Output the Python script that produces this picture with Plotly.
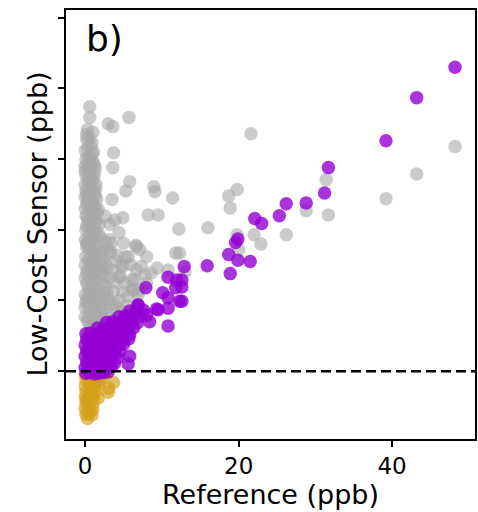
import plotly.graph_objects as go

# ---------------- data (ppb) ----------------
gray_x = [0.6, 0.6, 0.5, 0.9, 0.3, 1.1, 0.6, 0.1, 1.0, 0.4, 1.3, 0.7, 0.1, 1.1, 0.4, 1.4, 0.8, 0.1, 1.2, 0.5,
          1.5, 0.9, 0.2, 1.3, 0.6, 1.6, 0.1, 1.0, 0.4, 1.8, 0.8, 0.1, 1.3, 0.5, 2.0, 0.9, 0.2, 1.5, 0.6, 2.3,
          1.1, 0.1, 1.8, 0.7, 2.7, 1.3, 0.3, 2.1, 0.9, 3.2, 1.6, 0.2, 2.6, 1.1, 3.7, 0.5, 1.9, 3.0, 0.1, 1.4,
          2.4, 4.1, 0.7, 1.8, 3.3, 0.3, 2.7, 1.2,
          0.3, 1.0, 0.2, 0.8, 0.3, 0.9, 0.2, 1.0, 0.3, 1.3, 0.5, 1.2, 0.4, 1.8, 0.6, 2.3, 1.4, 2.7, 0.9, 3.4,
          2.1, 1.0, 2.0, 4.4, 4.9, 5.4, 3.8, 4.5, 2.9, 2.4, 1.7, 2.6, 3.3, 4.0, 3.6, 4.8, 5.6, 6.2, 5.2, 6.9,
          0.0, 0.7, 1.2, 0.5, 1.4, 0.3, 1.1, 0.7, 1.5, 0.0, 0.8, 1.6, 0.2, 1.2, 2.4, 0.4, 1.7, 0.0, 2.2, 0.5,
          1.2, 2.9, 0.0, 1.5, 0.6, 0.9, 0.0, 1.7, 0.4, 1.0, 0.2, 1.9, 0.0, 1.0, 0.0, 0.8, 0.6, 0.0, 1.0, 2.2,
          0.2, 0.9, 0.4, 1.2, 0.0, 0.6, 1.3, 0.0, 0.7, 1.4, 0.2, 0.9, 0.3, 1.4, 0.6, 0.0, 1.0, 0.2, 1.3, 0.7,
          0.0, 1.8, 0.4, 2.4, 1.0,
          2.8, 3.4, 4.2, 4.7, 5.9, 6.4, 7.3, 7.0, 8.0, 8.6, 9.4, 4.4, 3.2, 2.6, 5.0, 2.8, 3.9, 4.6, 6.0, 3.3,
          3.0, 3.6, 5.7, 3.7, 3.6, 5.8, 5.3, 8.95, 9.1, 3.5, 11.4, 8.2, 9.5, 3.9, 4.9, 12.2, 16.0, 18.7, 19.8,
          18.9, 21.6, 39.2, 43.2, 48.2, 31.4, 31.7, 28.8, 26.2, 22.0, 22.9, 20.0, 13.0, 12.3, 19.8, 6.7, 7.1,
          5.6, 8.0, 11.8, 4.9, 6.7, 10.8, 7.8, 4.5, 6.1, 6.2, 3.1, 3.1, 6.6, 5.3]
gray_y = [37.4, 35.9, 33.0, 32.3, 31.6, 31.0, 30.4, 30.0, 29.6, 29.1, 28.7, 28.2, 27.7, 27.3, 26.8, 26.4, 26.0,
          25.6, 25.2, 24.8, 24.4, 24.0, 23.6, 23.2, 22.8, 22.4, 22.0, 21.6, 21.2, 20.8, 20.4, 20.0, 19.6, 19.2,
          18.9, 18.5, 18.1, 17.7, 17.3, 17.0, 16.6, 16.2, 15.8, 15.4, 15.1, 14.7, 14.3, 13.9, 13.5, 13.2, 12.8,
          12.4, 12.0, 11.6, 11.3, 10.9, 10.5, 10.1, 9.7, 9.3, 8.9, 8.6, 8.2, 7.8, 7.5, 7.1, 6.8, 6.4,
          34.2, 33.8, 32.8, 29.9, 28.5, 27.0, 25.0, 23.4, 21.8, 20.9, 18.7, 17.0, 15.8, 14.4, 13.0, 12.4, 11.0,
          10.5, 9.9, 9.4, 8.4, 7.5, 7.0, 10.0, 11.2, 9.3, 12.6, 13.5, 14.6, 16.0, 19.5, 18.3, 16.9, 15.6, 14.2,
          8.4, 10.6, 11.6, 12.4, 10.9,
          31.2, 31.8, 29.2, 27.5, 25.8, 24.2, 22.2, 21.0, 19.0, 18.6, 16.0, 15.2, 13.8, 13.3, 13.5, 11.8, 11.4,
          10.8, 9.6, 9.0, 8.6, 8.0, 7.7, 6.8, 6.5, 23.8, 23.0, 22.9, 20.3, 19.9, 17.5, 16.9, 15.0, 14.1, 26.4,
          25.3, 28.9, 29.0, 18.0, 14.8,
          33.5, 30.8, 30.2, 28.0, 28.3, 26.6, 24.8, 24.6, 23.2, 21.2, 20.6, 19.0, 17.9, 16.3, 14.6, 13.2, 12.2,
          10.2, 10.0, 11.2, 9.0, 9.0, 7.6, 7.3, 6.2,
          17.5, 18.1, 16.4, 14.9, 15.1, 13.0, 14.8, 11.5, 12.4, 13.9, 14.6, 19.6, 20.8, 21.9, 18.1, 11.2, 9.5,
          7.2, 8.0, 6.9,
          35.0, 34.6, 35.9, 30.9, 28.8, 26.8, 25.5, 26.1, 25.4, 24.3, 24.5, 22.1, 22.1, 21.4, 21.7, 20.1, 20.3,
          24.8, 25.7, 23.1, 33.6, 24.4, 27.9, 31.8, 27.1, 22.1, 22.7, 19.3, 19.3, 18.0, 17.2, 14.0, 16.7, 19.3,
          17.6, 17.2, 16.2, 16.2, 16.7, 14.8, 14.3, 14.3, 13.6, 13.3, 12.9, 11.5, 18.6, 16.7, 17.8, 16.2]

gold_x = [0.0, 0.6, 1.2, 1.9, 2.5, 0.1, 0.7, 1.3, 2.0, 0.0, 0.6, 1.2, 1.8, 0.1, 0.7, 1.3, 0.0, 0.6, 1.1,
          0.1, 0.6, 1.0, 0.0, 0.5, 1.0, 0.1, 0.5, 0.9, 0.3, 0.4, 0.9, 1.5, 0.2, 0.8,
          3.1, 3.7, 3.0, 1.7]
gold_y = [-0.5, -0.6, -0.4, -0.7, -0.5, -1.3, -1.2, -1.4, -1.3, -2.1, -2.0, -2.2, -2.0, -2.9, -2.8, -3.0,
          -3.7, -3.6, -3.8, -4.5, -4.4, -4.6, -5.3, -5.2, -5.4, -6.1, -6.0, -6.2, -6.7, -1.0, -1.8, -1.6,
          -4.0, -3.3,
          -2.4, -1.6, -3.0, -3.8]

purple_x = [48.2, 43.2, 39.2, 31.7, 31.2, 28.8, 26.2, 25.3, 22.1, 23.0, 19.9, 19.6, 18.7, 19.9, 21.5, 18.9,
            15.9, 12.9, 12.6, 12.6, 12.6, 10.8, 11.9, 7.9, 10.1, 11.8, 10.8, 12.3, 6.9, 9.5, 10.8, 8.0, 8.4,
            10.8, 5.4, 4.5, 5.8, 5.6, 9.3,
            0.1, 0.6, 1.2, 1.8, 2.4, 3.0, 0.0, 0.5, 1.1, 1.6, 2.2, 2.8, 3.4, 0.2, 0.8, 1.4, 2.0, 2.6, 3.2, 3.8,
            0.0, 0.6, 1.2, 1.8, 2.4, 3.0, 3.6, 4.2, 0.2, 0.8, 1.4, 2.0, 2.6, 3.2, 3.8, 4.5, 0.0, 0.6, 1.2, 1.8,
            2.4, 3.0, 3.6, 4.3, 5.0, 0.2, 0.8, 1.5, 2.2, 2.9, 3.6, 4.3, 5.0, 5.7, 0.1, 0.7, 1.4, 2.1, 2.8, 3.5,
            4.2, 5.0, 5.8, 1.6, 2.4, 3.2, 4.0, 4.8, 5.6, 6.3, 2.8, 3.6, 4.4, 5.2, 6.0, 6.8, 4.4, 5.2, 6.0, 7.0,
            5.8, 6.6, 7.6, 6.9, 3.3]
purple_y = [43.0, 38.7, 32.6, 28.8, 25.2, 23.8, 23.7, 22.0, 21.6, 20.9, 18.7, 18.2, 16.5, 15.7, 15.5, 13.8,
            14.9, 14.8, 12.9, 11.9, 9.9, 13.3, 12.9, 11.8, 11.1, 11.8, 10.4, 9.9, 9.4, 8.7, 8.9, 7.9, 7.0,
            6.4, 7.7, 6.8, 2.1, 1.0, 8.8,
            -0.3, -0.2, -0.4, -0.3, -0.2, -0.1, 0.5, 0.6, 0.4, 0.6, 0.5, 0.4, 0.6, 1.3, 1.2, 1.4, 1.3, 1.2, 1.4,
            1.1, 2.1, 2.2, 2.0, 2.1, 2.2, 2.0, 2.1, 1.9, 2.9, 2.8, 3.0, 2.9, 2.8, 3.0, 2.9, 2.8, 3.7, 3.8, 3.6,
            3.7, 3.8, 3.6, 3.7, 3.6, 3.8, 4.5, 4.4, 4.6, 4.5, 4.4, 4.6, 4.5, 4.4, 4.6, 5.3, 5.4, 5.2, 5.3, 5.4,
            5.2, 5.3, 5.4, 5.2, 6.1, 6.0, 6.2, 6.1, 6.0, 6.2, 6.1, 6.9, 7.0, 6.8, 6.9, 7.0, 6.8, 7.7, 7.8, 7.6,
            7.7, 8.5, 8.4, 8.6, 9.3, 6.5]

x_ticks = [0, 20, 40]
y_ticks = [0, 10, 20, 30, 40, 50]

FONT = "DejaVu Sans"
MS = 13.5

fig = go.Figure()
fig.add_trace(go.Scatter(x=gray_x, y=gray_y, mode="markers",
                         marker=dict(size=MS, color="#a9a9a9", opacity=0.6, line=dict(width=0))))
fig.add_trace(go.Scatter(x=gold_x, y=gold_y, mode="markers",
                         marker=dict(size=MS, color="#d4a017", opacity=0.65, line=dict(width=0))))
fig.add_trace(go.Scatter(x=purple_x, y=purple_y, mode="markers",
                         marker=dict(size=MS, color="#9400d3", opacity=0.8, line=dict(width=0))))

fig.add_shape(type="line", xref="paper", yref="y", x0=0, x1=1, y0=0, y1=0,
              line=dict(color="black", width=2.5, dash="10px,5px"), layer="above")

fig.add_annotation(text="b)", xref="paper", yref="paper", x=0.045, y=0.985,
                   xanchor="left", yanchor="top", showarrow=False,
                   font=dict(family=FONT, size=36, color="black"))
fig.add_annotation(text="Reference (ppb)", xref="paper", yref="paper", x=0.5, y=-0.1305,
                   xanchor="center", yanchor="middle", showarrow=False,
                   font=dict(family=FONT, size=27, color="black"))
fig.add_annotation(text="Low-Cost Sensor (ppb)", xref="paper", yref="paper", x=-0.0709, y=0.5,
                   xanchor="center", yanchor="middle", textangle=-90, showarrow=False,
                   font=dict(family=FONT, size=27, color="black"))

fig.update_layout(
    width=478, height=512,
    margin=dict(l=66, r=3, t=10, b=73, autoexpand=False),
    paper_bgcolor="white", plot_bgcolor="white",
    showlegend=False,
    font=dict(family=FONT, color="black"),
    xaxis=dict(range=[-2.5, 50.8], tickvals=x_ticks, ticks="outside", ticklen=6, tickwidth=1.5,
               tickcolor="black", showline=True, mirror=True, linecolor="black", linewidth=1.5,
               showgrid=False, zeroline=False, automargin=False, tickfont=dict(size=23, family=FONT)),
    yaxis=dict(range=[-9.6, 51.1], tickvals=y_ticks, showticklabels=False, ticks="outside", ticklen=6,
               tickwidth=1.5, tickcolor="black", showline=True, mirror=True, linecolor="black",
               linewidth=1.5, showgrid=False, zeroline=False, automargin=False),
)

fig.write_html("out.html", config={"displayModeBar": False},
               post_script="document.body.style.margin='0';document.body.style.padding='0';")
